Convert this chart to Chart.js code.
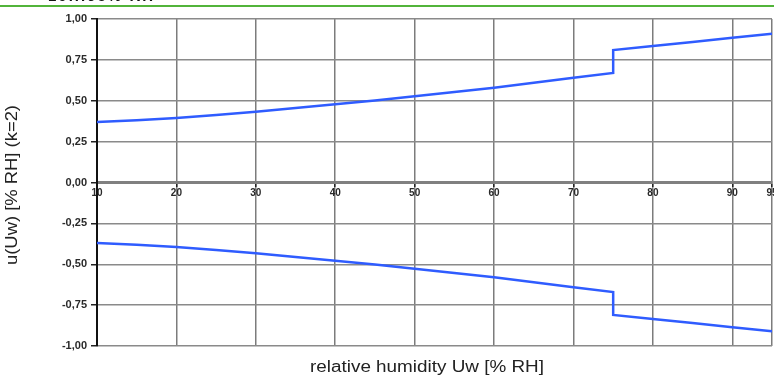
<!DOCTYPE html>
<html>
<head>
<meta charset="utf-8">
<script src="https://cdn.jsdelivr.net/npm/chart.js@4.4.0/dist/chart.umd.min.js"></script>
<style>
  html, body { margin: 0; padding: 0; background: #fff; overflow: hidden; }
  #wrap { position: relative; width: 774px; height: 379px; }
  #chart { position: absolute; left: 0; top: 0; }
  .cap { position: absolute; top: -13px; left: 48px; font: bold 15px Arial, "Liberation Sans", sans-serif; letter-spacing: 2px; color: #111; }
  .rule { position: absolute; left: 0; top: 5px; width: 774px; height: 2px; background: #52b43a; }
  .xtitle { position: absolute; left: 427px; top: 367px; transform: translate(-50%, -50%) scaleX(1.18); white-space: nowrap; font: 16px Arial, "Liberation Sans", sans-serif; color: #222; }
  .ytitle { position: absolute; left: 12px; top: 185px; transform: translate(-50%, -50%) rotate(-90deg) scaleX(1.15); white-space: nowrap; font: 16px Arial, "Liberation Sans", sans-serif; color: #222; }
</style>
</head>
<body>
<div id="wrap">
  <canvas id="chart" width="774" height="379"></canvas>
  <div class="cap">10...95% RH</div>
  <div class="rule"></div>
  <div class="xtitle">relative humidity Uw [% RH]</div>
  <div class="ytitle">u(Uw) [% RH] (k=2)</div>
</div>
<script>
// relative humidity (x) – 75 appears twice for the step
const humidity = [10, 15, 20, 25, 30, 35, 40, 45, 50, 55, 60, 65, 70, 75, 75, 80, 85, 90, 95];
const upperU = [0.37, 0.38, 0.395, 0.413, 0.433, 0.455, 0.478, 0.502, 0.527, 0.553, 0.58, 0.61, 0.64, 0.67, 0.81, 0.835, 0.86, 0.885, 0.91];
const lowerU = [-0.37, -0.38, -0.395, -0.413, -0.433, -0.455, -0.478, -0.502, -0.527, -0.553, -0.58, -0.61, -0.64, -0.67, -0.81, -0.835, -0.86, -0.885, -0.91];
const xTicks = [10, 20, 30, 40, 50, 60, 70, 80, 90, 95];
const yTicks = [-1, -0.75, -0.5, -0.25, 0, 0.25, 0.5, 0.75, 1];

const toPoints = vals => humidity.map((h, i) => ({ x: h, y: vals[i] }));
const yFont = { family: 'Arial, "Liberation Sans", sans-serif', size: 11, weight: 'bold' };
const xFont = { family: 'Arial, "Liberation Sans", sans-serif', size: 10, weight: 'bold' };

const ctx = document.getElementById('chart').getContext('2d');
new Chart(ctx, {
  type: 'line',
  data: {
    datasets: [
      { data: toPoints(upperU), borderColor: '#2f5cff', borderWidth: 2.5, pointRadius: 0, tension: 0, fill: false },
      { data: toPoints(lowerU), borderColor: '#2f5cff', borderWidth: 2.5, pointRadius: 0, tension: 0, fill: false }
    ]
  },
  options: {
    responsive: false,
    animation: false,
    layout: { padding: { left: 0, right: 2, top: 19, bottom: 33 } },
    plugins: { legend: { display: false }, tooltip: { enabled: false } },
    scales: {
      x: {
        type: 'linear',
        position: { y: 0 },
        min: 10,
        max: 95,
        afterBuildTicks: s => { s.ticks = xTicks.map(v => ({ value: v })); },
        afterFit: s => { s.paddingLeft = 0; s.paddingRight = 0; },
        grid: { color: '#7c7c7c', lineWidth: 1.5, tickLength: 3, tickColor: '#222' },
        border: { color: '#808080', width: 3 },
        ticks: { font: xFont, color: '#2a2a2a', padding: 2, maxRotation: 0 }
      },
      y: {
        type: 'linear',
        min: -1,
        max: 1,
        afterBuildTicks: s => { s.ticks = yTicks.map(v => ({ value: v })); },
        afterFit: s => { s.width = 97; s.paddingTop = 0; s.paddingBottom = 0; },
        grid: { color: '#8a8a8a', lineWidth: 1.5, tickLength: 6, tickColor: '#222' },
        border: { color: '#111', width: 2 },
        ticks: {
          font: yFont,
          color: '#2a2a2a',
          padding: 4,
          callback: v => v.toFixed(2).replace('.', ',')
        }
      }
    }
  }
});
</script>
</body>
</html>
